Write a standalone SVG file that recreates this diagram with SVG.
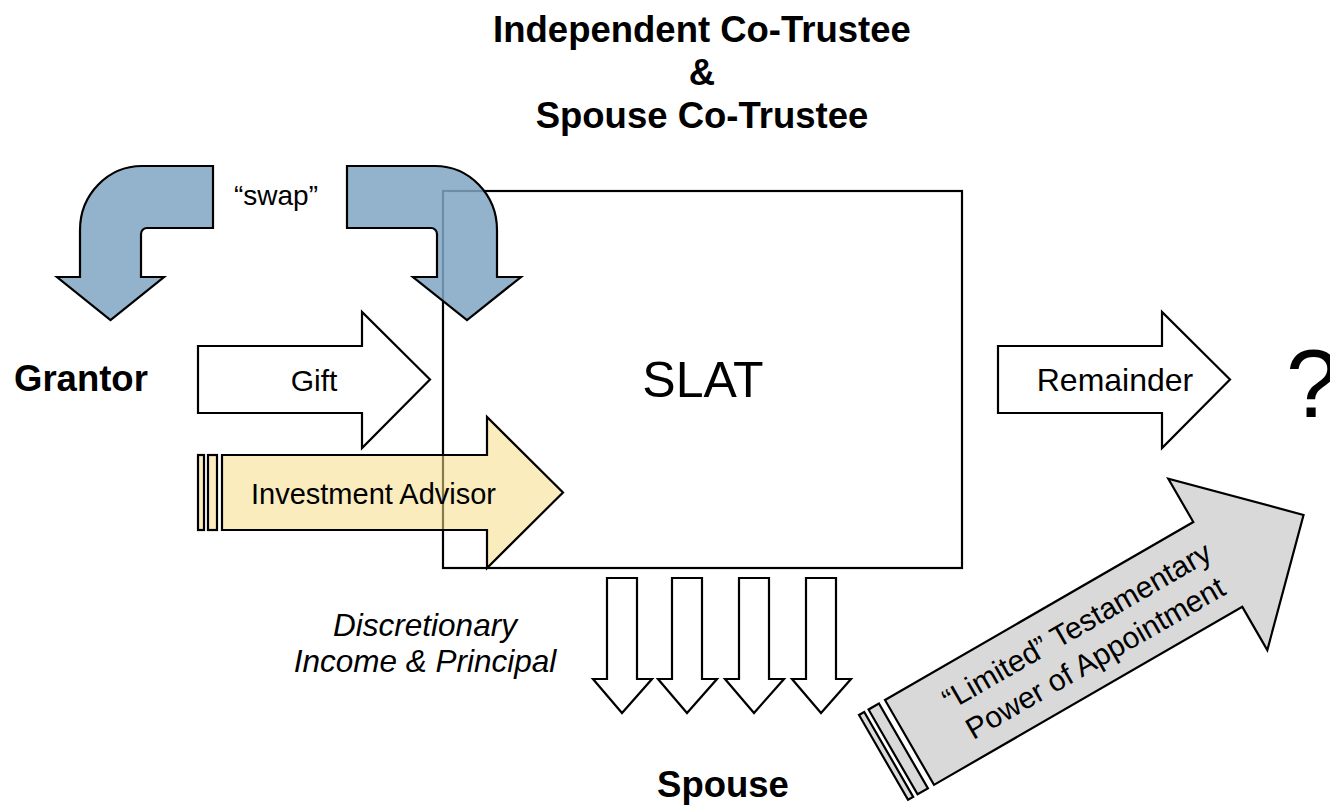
<svg xmlns="http://www.w3.org/2000/svg" width="1330" height="809" viewBox="0 0 1330 809">
  <style>
    .sans { font-family: "Liberation Sans", Arial, sans-serif; fill: #000; }
    .bold { font-weight: bold; font-size: 36.5px; }
    .outline { stroke: #000; stroke-width: 2.2; stroke-linejoin: miter; }
    .plain { fill: #fff; }
    .swap { fill: #7fa6c2; fill-opacity: 0.85; }
    .advisor { fill: #f6dc87; fill-opacity: 0.55; }
    .poa { fill: #d9d9d9; }
  </style>

  <rect width="1330" height="809" fill="#fff"/>

  <!-- trustee heading -->
  <g id="trustees">
    <text class="sans bold" x="702" y="42" text-anchor="middle">Independent Co-Trustee</text>
    <text class="sans bold" x="702" y="85" text-anchor="middle">&amp;</text>
    <text class="sans bold" x="702" y="128" text-anchor="middle">Spouse Co-Trustee</text>
  </g>

  <!-- trust box -->
  <g id="slat">
    <rect x="443" y="191" width="519" height="377" fill="#fff" stroke="#000" stroke-width="2.2"/>
    <text class="sans" x="703" y="397" font-size="50" text-anchor="middle">SLAT</text>
  </g>

  <g id="grantor">
    <text class="sans bold" x="14" y="391">Grantor</text>
  </g>

  <g id="spouse">
    <text class="sans bold" x="723" y="797" text-anchor="middle">Spouse</text>
  </g>

  <g id="unknown">
    <text class="sans" x="1286" y="417" font-size="96">?</text>
  </g>

  <g id="connectors">
    <!-- swap: bent arrow back to the grantor -->
    <path class="swap outline" d="M213,166 L142,166 A62,64 0 0 0 80,230 L80,277 L57,277 L110.5,320 L164,277 L141,277 L141,234 A6,6 0 0 1 147,228 L213,228 Z"/>
    <!-- swap: bent arrow into the trust -->
    <path class="swap outline" d="M347,166 L435,166 A62,64 0 0 1 497,230 L497,277 L521,277 L467,320 L413,277 L437,277 L437,234 A6,6 0 0 0 431,228 L347,228 Z"/>
    <text class="sans" x="276" y="205" font-size="28" text-anchor="middle">“swap”</text>

    <!-- gift -->
    <path class="plain outline" d="M198,346 L362,346 L362,312 L430,379.5 L362,448 L362,413 L198,413 Z"/>
    <text class="sans" x="314" y="391" font-size="30" text-anchor="middle">Gift</text>

    <!-- investment advisor (striped arrow) -->
    <g class="advisor outline">
      <rect x="198" y="455" width="6" height="75"/>
      <rect x="208" y="455" width="9" height="75"/>
      <path d="M222,455 L487,455 L487,417 L563,492.5 L487,568 L487,530 L222,530 Z"/>
    </g>
    <text class="sans" x="373.5" y="504" font-size="29" text-anchor="middle">Investment Advisor</text>

    <!-- remainder -->
    <path class="plain outline" d="M998,346 L1162,346 L1162,312 L1230,379.5 L1162,448 L1162,413 L998,413 Z"/>
    <text class="sans" x="1115" y="391" font-size="32" text-anchor="middle">Remainder</text>

    <!-- distributions to spouse -->
    <path class="plain outline" d="M607,578 L637,578 L637,679 L652,679 L622,713 L593,679 L607,679 Z"/>
    <path class="plain outline" d="M672,578 L702,578 L702,679 L717,679 L687,713 L658,679 L672,679 Z"/>
    <path class="plain outline" d="M739,578 L769,578 L769,679 L784,679 L754,713 L725,679 L739,679 Z"/>
    <path class="plain outline" d="M806,578 L836,578 L836,679 L851,679 L821,713 L792,679 L806,679 Z"/>
    <text class="sans" x="425" y="636" font-size="31.5" font-style="italic" text-anchor="middle">Discretionary</text>
    <text class="sans" x="425" y="672" font-size="31.5" font-style="italic" text-anchor="middle">Income &amp; Principal</text>

    <!-- limited testamentary power of appointment (striped arrow, tilted) -->
    <g transform="translate(885,700) rotate(-30)">
      <g class="poa outline">
        <rect x="-30" y="0" width="6" height="98"/>
        <rect x="-19" y="0" width="12" height="98"/>
        <path d="M0,0 L356,0 L356,-50 L455,49 L356,148 L356,98 L0,98 Z"/>
      </g>
      <text class="sans" x="203" y="42" font-size="30" text-anchor="middle">“Limited” Testamentary</text>
      <text class="sans" x="203" y="79" font-size="30" text-anchor="middle">Power of Appointment</text>
    </g>
  </g>
</svg>
